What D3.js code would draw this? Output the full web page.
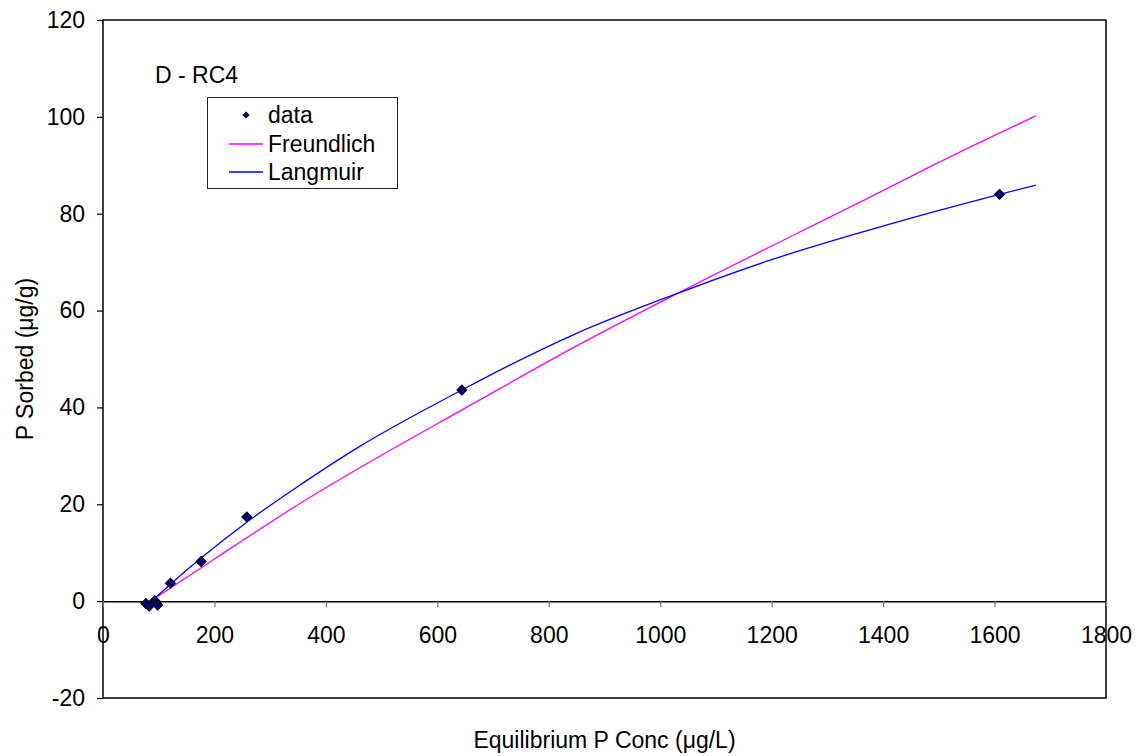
<!DOCTYPE html>
<html>
<head>
<meta charset="utf-8">
<script src="https://cdn.jsdelivr.net/npm/d3@7"></script>
<style>
  body { margin: 0; background: #fff; }
  text { font-family: "Liberation Sans", Arial, sans-serif; }
</style>
</head>
<body>
<script>
'use strict';

// measured sorption data
const dataC = [77, 83, 93, 98, 121, 176, 258, 644, 1609];
const dataQ = [-0.5, -1.0, 0.1, -0.8, 3.7, 8.2, 17.4, 43.6, 84.0];

// Freundlich fit
const freundC = [92, 200, 354, 677, 850, 1030, 1257, 1359, 1472, 1674];
const freundQ = [0.5, 8.7, 20.2, 41.6, 52.7, 63.5, 76.6, 82.4, 89.0, 100.2];

// Langmuir fit
const langC = [93, 121, 176, 258, 354, 460, 644, 677, 850, 1030, 1197, 1359, 1609, 1674];
const langQ = [0.6, 3.5, 8.9, 16.3, 24.0, 31.9, 43.6, 45.6, 55.3, 63.5, 70.4, 76.1, 84.0, 85.9];

const xTicks = [0, 200, 400, 600, 800, 1000, 1200, 1400, 1600, 1800];
const yTicks = [-20, 0, 20, 40, 60, 80, 100, 120];

const title = "D - RC4";
const legendNames = ["data", "Freundlich", "Langmuir"];

(function() {

  let fontSize = '23px';

  let svg = d3.select('body').append('svg')
    .attr('width', 1145)
    .attr('height', 756);

  // plot area
  let pLeft = 103, pRight = 1106, pTop = 20, pBottom = 698;

  let x = d3.scaleLinear().domain([0, 1800]).range([pLeft, pRight]);
  let y = d3.scaleLinear().domain([-20, 120]).range([pBottom, pTop]);

  // frame around plot area
  svg.append('rect')
    .attr('x', pLeft).attr('y', pTop)
    .attr('width', pRight - pLeft).attr('height', pBottom - pTop)
    .attr('fill', 'none')
    .attr('stroke', '#000')
    .attr('stroke-width', 1.5);

  // x axis sits on y = 0
  let xAxis = d3.axisBottom(x)
    .tickValues(xTicks)
    .tickFormat(d => String(d))
    .tickSize(6).tickSizeOuter(0).tickPadding(20);
  let gx = svg.append('g')
    .attr('transform', 'translate(0,' + y(0) + ')')
    .call(xAxis);
  gx.select('.domain').attr('stroke', '#000').attr('stroke-width', 1.5);
  gx.selectAll('.tick line').attr('stroke', '#777').attr('stroke-width', 1.2);
  gx.selectAll('.tick text').style('font-size', fontSize).attr('fill', '#000');

  let yAxis = d3.axisLeft(y)
    .tickValues(yTicks)
    .tickFormat(d => String(d))
    .tickSize(6).tickSizeOuter(0).tickPadding(12);
  let gy = svg.append('g')
    .attr('transform', 'translate(' + pLeft + ',0)')
    .call(yAxis);
  gy.select('.domain').remove();
  gy.selectAll('.tick line').attr('stroke', '#000').attr('stroke-width', 1.2);
  gy.selectAll('.tick text').style('font-size', fontSize).attr('fill', '#000');

  // fitted curves
  let line = d3.line()
    .x(d => x(d[0]))
    .y(d => y(d[1]))
    .curve(d3.curveMonotoneX);

  svg.append('path')
    .datum(d3.zip(freundC, freundQ))
    .attr('d', line)
    .attr('fill', 'none')
    .attr('stroke', '#ff00ff')
    .attr('stroke-width', 1.3);

  svg.append('path')
    .datum(d3.zip(langC, langQ))
    .attr('d', line)
    .attr('fill', 'none')
    .attr('stroke', '#0000ff')
    .attr('stroke-width', 1.3);

  // data markers as diamonds
  let diamond = d3.symbol().type(d3.symbolSquare).size(50);
  svg.selectAll('.dot')
    .data(d3.zip(dataC, dataQ))
    .enter()
    .append('path')
      .attr('class', 'dot')
      .attr('d', diamond)
      .attr('transform', d => 'translate(' + x(d[0]) + ',' + y(d[1]) + ') rotate(45)')
      .attr('fill', '#000080')
      .attr('stroke', '#000')
      .attr('stroke-width', 1);

  // title inside the chart
  svg.append('text')
    .attr('x', 155)
    .attr('y', 83)
    .style('font-size', fontSize)
    .text(title);

  // legend
  let lg = svg.append('g');
  lg.append('rect')
    .attr('x', 207.5).attr('y', 97.5)
    .attr('width', 190).attr('height', 91)
    .attr('fill', '#fff')
    .attr('stroke', '#222')
    .attr('stroke-width', 1);

  let legendY = [115, 144, 172];
  lg.append('path')
    .attr('d', d3.symbol().type(d3.symbolSquare).size(20))
    .attr('transform', 'translate(246,' + legendY[0] + ') rotate(45)')
    .attr('fill', '#000080')
    .attr('stroke', '#000')
    .attr('stroke-width', 0.8);
  lg.append('line')
    .attr('x1', 229).attr('x2', 263)
    .attr('y1', legendY[1]).attr('y2', legendY[1])
    .attr('stroke', '#ff00ff').attr('stroke-width', 1.3);
  lg.append('line')
    .attr('x1', 229).attr('x2', 263)
    .attr('y1', legendY[2]).attr('y2', legendY[2])
    .attr('stroke', '#0000ff').attr('stroke-width', 1.3);

  lg.selectAll('.lgtext')
    .data(legendNames)
    .enter()
    .append('text')
      .attr('x', 268)
      .attr('y', (d, i) => legendY[i])
      .attr('dy', '0.36em')
      .style('font-size', fontSize)
      .text(d => d);

  // axis titles
  svg.append('text')
    .attr('x', (pLeft + pRight) / 2)
    .attr('y', 748)
    .attr('text-anchor', 'middle')
    .style('font-size', fontSize)
    .text('Equilibrium P Conc (\u03bcg/L)');

  svg.append('text')
    .attr('transform', 'translate(33,' + ((pTop + pBottom) / 2) + ') rotate(-90)')
    .attr('text-anchor', 'middle')
    .style('font-size', fontSize)
    .text('P Sorbed (\u03bcg/g)');

})();
</script>
</body>
</html>
